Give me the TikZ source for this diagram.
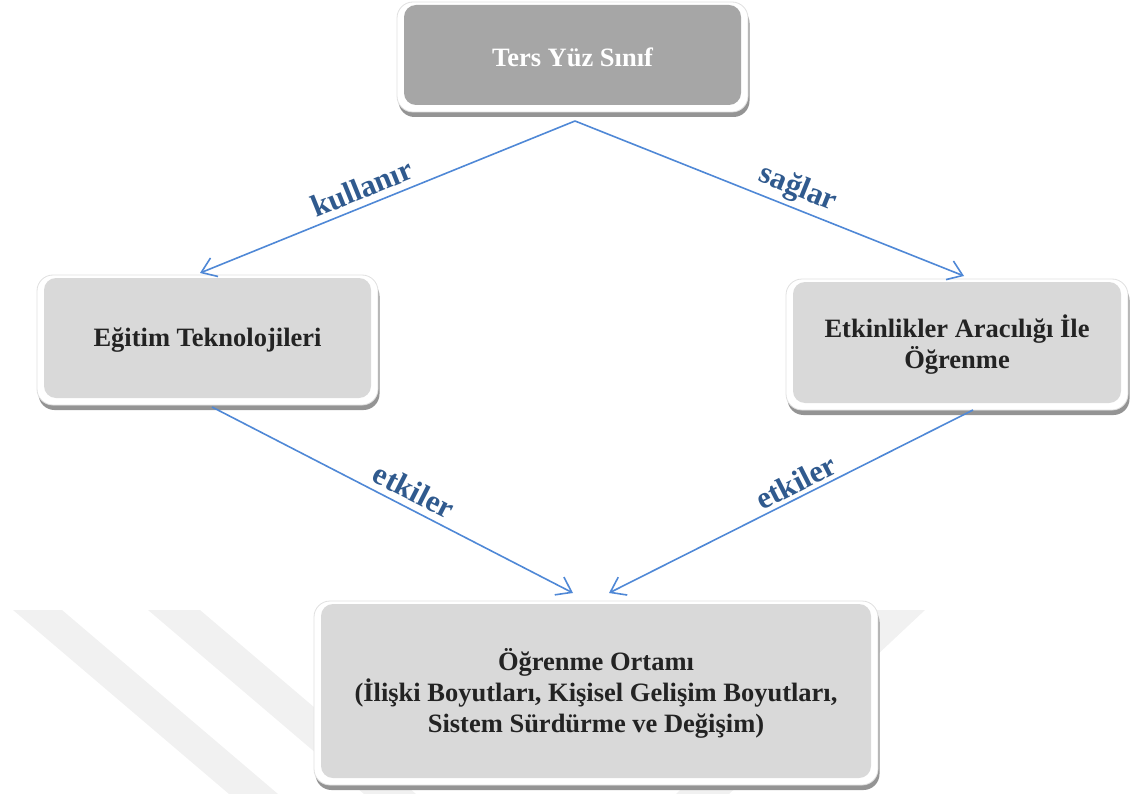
\documentclass[tikz,border=0pt]{standalone}
\usepackage{fontspec}
\setmainfont{Liberation Serif}
\usetikzlibrary{arrows.meta,shadows}

\definecolor{boxgray}{HTML}{D9D9D9}
\definecolor{topgray}{HTML}{A6A6A6}
\definecolor{arrowblue}{HTML}{4F88D6}
\definecolor{labelblue}{HTML}{305A8E}
\definecolor{markgray}{HTML}{F1F1F1}
\definecolor{textdark}{HTML}{232323}

\tikzset{
  panel/.style={rectangle, rounded corners=16pt, fill=white, draw=black!12,
    line width=0.8pt, inner sep=0pt, align=center, text=textdark,
    font=\bfseries\fontsize{26.5}{31}\selectfont,
    drop shadow={shadow xshift=1.5pt, shadow yshift=-5pt, fill=black!42, opacity=1},
    path picture={\fill[#1, rounded corners=12pt]
      ([shift={(7pt,7pt)}]path picture bounding box.south west) rectangle
      ([shift={(-7pt,-3pt)}]path picture bounding box.north east);}},
  conn/.style={draw=arrowblue, line width=1.6pt,
    -{Straight Barb[length=14pt,width=20pt]}},
  verb/.style={text=labelblue, font=\bfseries\fontsize{31}{31}\selectfont, inner sep=0pt},
  stripe/.style={fill=markgray, draw=none}
}

\begin{document}
\begin{tikzpicture}[x=1pt, y=-1pt]
  \useasboundingbox (0,0) rectangle (1131,794);

  % faint background stripes
  \fill[stripe] (13,610) -- (62,610) -- (278,794) -- (229,794) -- cycle;
  \fill[stripe] (148,610) -- (200,610) -- (416,794) -- (364,794) -- cycle;
  \fill[stripe] (872,610) -- (925,610) -- (729,794) -- (676,794) -- cycle;

  % boxes
  \node[panel=topgray, minimum width=351pt, minimum height=110pt, text=white]
    (ters) at (572.5,57) {Ters Yüz Sınıf};
  \node[panel=boxgray, minimum width=341pt, minimum height=130pt]
    (tek) at (207.5,340) {Eğitim Teknolojileri};
  \node[panel=boxgray, minimum width=342pt, minimum height=131pt]
    (etk) at (957,344.5) {Etkinlikler Aracılığı İle\\Öğrenme};
  \node[panel=boxgray, minimum width=564pt, minimum height=184pt]
    (ort) at (596,693) {Öğrenme Ortamı\\(İlişki Boyutları, Kişisel Gelişim Boyutları,\\Sistem Sürdürme ve Değişim)};

  % connector end points
  \coordinate (fork) at (575,121);
  \coordinate (tekIn) at (200,273);
  \coordinate (etkIn) at (964,276);
  \coordinate (tekOut) at (212,407);
  \coordinate (etkOut) at (973,410);
  \coordinate (ortInL) at (573,593);
  \coordinate (ortInR) at (609,593);

  % connectors
  \draw[conn] (fork) -- (tekIn);
  \draw[conn] (fork) -- (etkIn);
  \draw[conn] (tekOut) -- (ortInL);
  \draw[conn] (etkOut) -- (ortInR);

  % connector labels
  \node[verb, rotate=22] (l1) at (362,188) {kullanır};
  \node[verb, rotate=-22] (l2) at (798,189) {sağlar};
  \node[verb, rotate=-27] (l3) at (414,491) {etkiler};
  \node[verb, rotate=27] (l4) at (796,482) {etkiler};
\end{tikzpicture}
\end{document}
